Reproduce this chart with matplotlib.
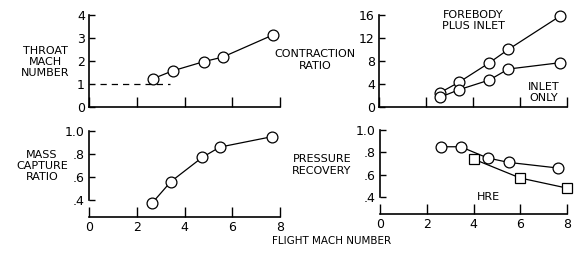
import matplotlib.pyplot as plt

# Mach de voo (eixo x comum)
mach_throat = [2.68, 3.5, 4.8, 5.6, 7.7]
throat_mach = [1.23, 1.57, 1.97, 2.17, 3.13]
dash_x = [0.45, 3.4]
dash_y = [1.0, 1.0]

mach_fore = [2.6, 3.4, 4.7, 5.5, 7.7]
contr_fore = [2.5, 4.3, 7.7, 10.0, 15.8]
mach_inlet = [2.6, 3.4, 4.7, 5.5, 7.7]
contr_inlet = [1.7, 3.0, 4.7, 6.6, 7.7]

mach_mass = [2.63, 3.43, 4.74, 5.48, 7.65]
mass_capture = [0.37, 0.56, 0.77, 0.86, 0.95]

mach_prec = [2.6, 3.45, 4.6, 5.5, 7.6]
prec = [0.85, 0.85, 0.75, 0.71, 0.66]
mach_hre = [4.0, 6.0, 8.0]
prec_hre = [0.74, 0.57, 0.48]

xticks = [0, 2, 4, 6, 8]

FONT = 'Liberation Sans Narrow'
plt.rcParams['font.family'] = [FONT, 'DejaVu Sans']

fig = plt.figure(figsize=(5.77, 2.54), dpi=100)
W, H = 577, 254


def box(x0, x1, ytop, ybot):
    return [x0 / W, 1 - ybot / H, (x1 - x0) / W, (ybot - ytop) / H]


ax1 = fig.add_axes(box(89, 280, 15, 107))
ax2 = fig.add_axes(box(379, 567, 15, 107))
ax3 = fig.add_axes(box(89, 280, 131, 217))
ax4 = fig.add_axes(box(380, 567, 130, 214))

mk = dict(marker='o', ms=7.8, mfc='white', mec='black', mew=0.9,
          color='black', lw=0.9)

for ax in (ax1, ax2, ax3, ax4):
    ax.set_xlim(0, 8)
    ax.spines['top'].set_visible(False)
    ax.spines['right'].set_visible(False)
    for s in ax.spines.values():
        s.set_linewidth(1.2)
    ax.set_xticks(xticks)
    ax.tick_params(axis='x', direction='in', length=7, width=1.0, labelsize=9)
    ax.tick_params(axis='y', direction='in', length=4, width=1.0, labelsize=9, pad=3)
    ax.patch.set_alpha(0)

# painel 1
ax1.plot(mach_throat, throat_mach, **mk, clip_on=False)
ax1.plot(dash_x, dash_y, '--', color='black', lw=0.9, dashes=(5, 4))
ax1.set_ylim(0, 4)
ax1.set_yticks([0, 1, 2, 3, 4])
ax1.tick_params(axis='x', labelbottom=False)
fig.text(45 / W, 1 - 62 / H, 'THROAT\nMACH\nNUMBER', ha='center', va='center',
         fontsize=8, linespacing=1.15)

# painel 2
ax2.plot(mach_fore, contr_fore, **mk, clip_on=False)
ax2.plot(mach_inlet, contr_inlet, **mk, clip_on=False)
ax2.set_ylim(0, 16)
ax2.set_yticks([0, 4, 8, 12, 16])
ax2.tick_params(axis='x', labelbottom=False)
fig.text(315 / W, 1 - 60 / H, 'CONTRACTION\nRATIO', ha='center', va='center',
         fontsize=8, linespacing=1.15)
ax2.text(4.0, 15.0, 'FOREBODY\nPLUS INLET', ha='center', va='center',
         fontsize=8, linespacing=1.1)
ax2.text(7.0, 2.5, 'INLET\nONLY', ha='center', va='center',
         fontsize=8, linespacing=1.1)

# painel 3
ax3.plot(mach_mass, mass_capture, **mk, clip_on=False)
ax3.set_ylim(0.252, 1.0)
ax3.set_yticks([0.4, 0.6, 0.8, 1.0])
ax3.set_yticklabels(['.4', '.6', '.8', '1.0'])
ax3.spines['left'].set_bounds(0.4, 1.0)
ax3.set_xticklabels(['0', '2', '4', '6', '8'])
ax3.tick_params(axis='x', pad=3)
fig.text(42 / W, 1 - 166 / H, 'MASS\nCAPTURE\nRATIO', ha='center', va='center',
         fontsize=8, linespacing=1.15)

# painel 4
ax4.plot(mach_prec, prec, **mk, clip_on=False)
ax4.plot(mach_hre, prec_hre, marker='s', ms=7, mfc='white', mec='black',
         mew=0.9, color='black', lw=0.9, clip_on=False)
ax4.set_ylim(0.248, 1.0)
ax4.set_yticks([0.4, 0.6, 0.8, 1.0])
ax4.set_yticklabels(['.4', '.6', '.8', '1.0'])
ax4.spines['left'].set_bounds(0.4, 1.0)
ax4.set_xticklabels(['0', '2', '4', '6', '8'])
ax4.tick_params(axis='x', pad=3)
ax4.text(4.65, 0.40, 'HRE', ha='center', va='center', fontsize=8)
fig.text(322 / W, 1 - 165 / H, 'PRESSURE\nRECOVERY', ha='center', va='center',
         fontsize=8, linespacing=1.15)

fig.text(332 / W, 1 - 241 / H, 'FLIGHT MACH NUMBER', ha='center', va='center',
         fontsize=7.5)

fig.savefig('out.png', dpi=100)
